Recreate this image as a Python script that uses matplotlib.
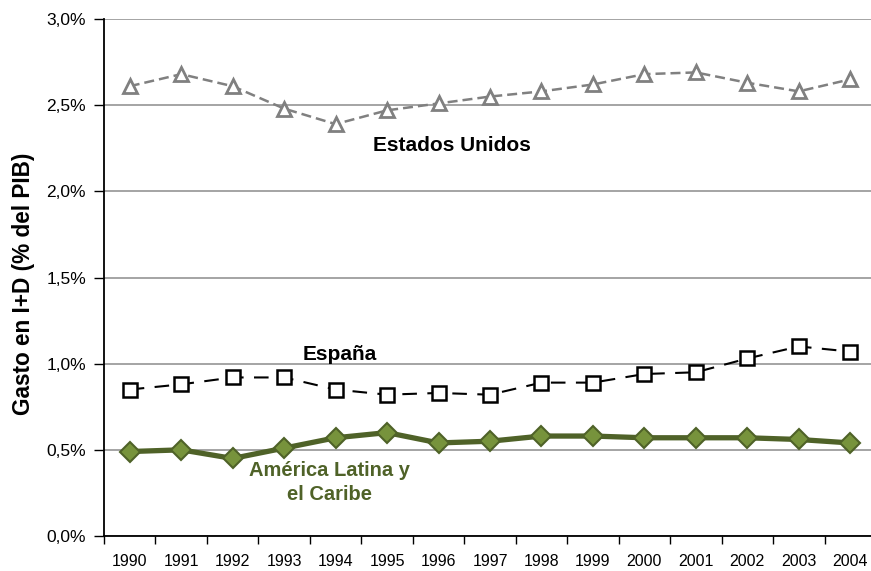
import matplotlib
matplotlib.use("Agg")
import matplotlib.pyplot as plt
from matplotlib.ticker import FixedLocator, FuncFormatter

plt.rcParams["font.family"] = ["Liberation Sans", "DejaVu Sans"]

# ----------------------------
# Data: R&D spending as % of GDP
# ----------------------------
years = [str(y) for y in range(1990, 2005)]

estados_unidos = [2.61, 2.68, 2.61, 2.48, 2.39, 2.47, 2.51, 2.55, 2.58, 2.62,
                  2.68, 2.69, 2.63, 2.58, 2.65]
espana = [0.85, 0.88, 0.92, 0.92, 0.85, 0.82, 0.83, 0.82, 0.89, 0.89,
          0.94, 0.95, 1.03, 1.10, 1.07]
america_latina = [0.49, 0.50, 0.45, 0.51, 0.57, 0.60, 0.54, 0.55, 0.58, 0.58,
                  0.57, 0.57, 0.57, 0.56, 0.54]

y_ticks = [0.0, 0.5, 1.0, 1.5, 2.0, 2.5, 3.0]

olive_dark = "#4F6228"
olive = "#77933C"
grey = "#808080"

# ----------------------------
# Figure
# ----------------------------
fig = plt.figure(figsize=(8.71, 5.71), dpi=100)
ax = fig.add_axes([104 / 871, 1 - 536 / 571, 772 / 871, 517 / 571])

x = list(range(len(years)))

for yv in y_ticks:
    ax.axhline(yv, color="#8C8C8C", lw=1.1, zorder=0)

ax.plot(x, estados_unidos, color=grey, lw=1.8, ls=(0, (4, 2)),
        marker="^", ms=10, mfc="white", mec=grey, mew=2.0, zorder=3)
ax.plot(x, espana, color="black", lw=1.5, ls=(0, (7, 5)),
        marker="s", ms=10, mfc="white", mec="black", mew=1.8, zorder=3)
ax.plot(x, america_latina, color=olive_dark, lw=3.8,
        marker="D", ms=10.5, mfc=olive, mec=olive_dark, mew=1.5, zorder=4)

# series labels
ax.text(6.26, 2.265, "Estados Unidos", ha="center", va="center",
        fontsize=15, fontweight="bold", color="black")
ax.text(4.08, 1.056, "España", ha="center", va="center",
        fontsize=15, fontweight="bold", color="black")
ax.text(3.89, 0.31, "América Latina y\nel Caribe", ha="center", va="center",
        fontsize=14.5, fontweight="bold", color=olive_dark, linespacing=1.3)

# axes
ax.set_xlim(-0.5, len(years) - 0.5)
ax.set_ylim(0, 3.0)
ax.set_yticks(y_ticks)
ax.yaxis.set_major_formatter(FuncFormatter(lambda v, p: f"{v:.1f}%".replace(".", ",")))

ax.xaxis.set_major_locator(FixedLocator([i - 0.5 for i in range(len(years) + 1)]))
ax.xaxis.set_minor_locator(FixedLocator(x))
ax.set_xticklabels([])
ax.set_xticklabels(years, minor=True)
ax.tick_params(axis="x", which="major", length=6, width=1, color="black")
ax.tick_params(axis="x", which="minor", length=0, pad=13, labelsize=11.5)
ax.tick_params(axis="y", length=7, width=1, color="black", labelsize=12.5, pad=6)

for side in ["top", "right"]:
    ax.spines[side].set_visible(False)
for side in ["left", "bottom"]:
    ax.spines[side].set_color("black")
    ax.spines[side].set_linewidth(1.3)

ax.set_ylabel("Gasto en I+D (% del PIB)", fontsize=16.3, fontweight="bold", labelpad=8)
ax.yaxis.label.set_y(0.487)

plt.savefig("out.png", dpi=100)
plt.close()
